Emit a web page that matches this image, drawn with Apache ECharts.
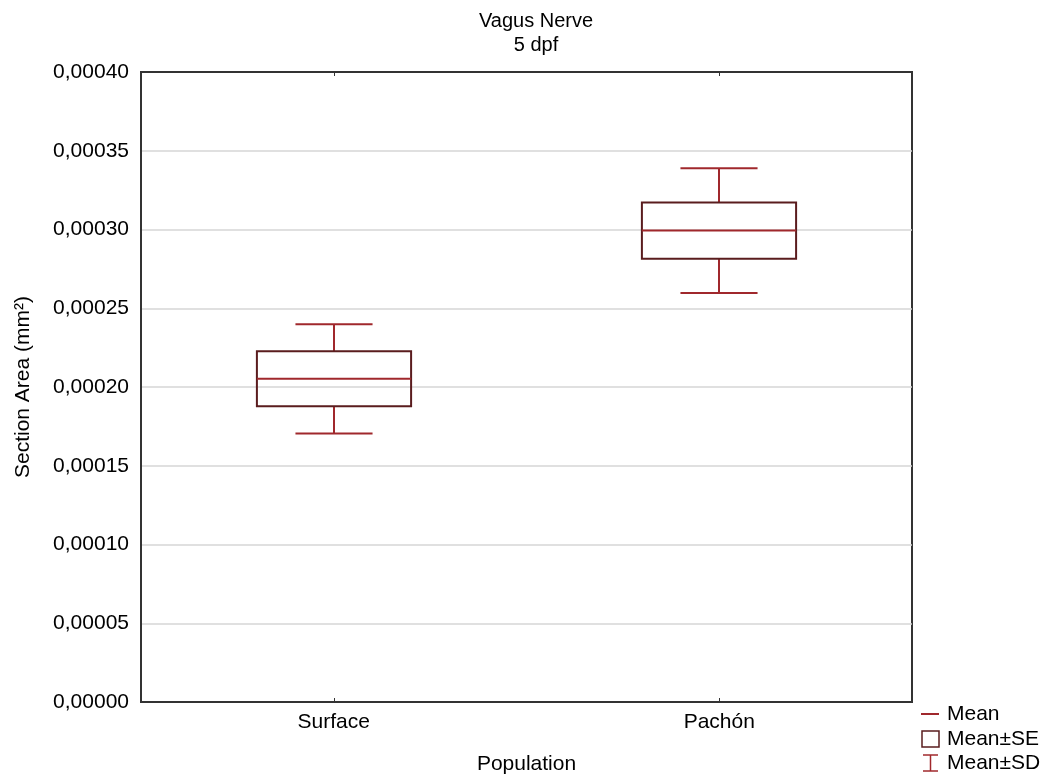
<!DOCTYPE html>
<html>
<head>
<meta charset="utf-8">
<script src="https://cdn.jsdelivr.net/npm/echarts@6/dist/echarts.min.js"></script>
<style>
html,body{margin:0;padding:0;background:#fff;}
#chart{width:1048px;height:780px;}
</style>
</head>
<body>
<div id="chart"></div>
<script>
const categories = ['Surface', 'Pachón'];
const means = [0.0002052, 0.0002993];
const se = [0.0000175, 0.0000179];
const sd = [0.0000347, 0.0000396];
const yTicks = { min: 0, max: 0.0004, interval: 0.00005 };
const legendItems = ['Mean', 'Mean±SE', 'Mean±SD'];

const FONT = '"Liberation Sans", Arial, sans-serif';
const BOX_COLOR = '#5a1c1e';
const LINE_COLOR = '#a0282c';
const FRAME = '#333333';

const chart = echarts.init(document.getElementById('chart'), null, { renderer: 'canvas' });

const data = categories.map((c, i) => [i, means[i], se[i], sd[i]]);

function renderItem(params, api) {
  const idx = api.value(0);
  const m = api.value(1), s = api.value(2), d = api.value(3);
  const band = api.size([1, 0])[0];
  const pMean = api.coord([idx, m]);
  const pSeHi = api.coord([idx, m + s]);
  const pSeLo = api.coord([idx, m - s]);
  const pSdHi = api.coord([idx, m + d]);
  const pSdLo = api.coord([idx, m - d]);
  const x = Math.round(pMean[0]);
  const bw = band * 0.2;
  const cw = band * 0.1;
  const lineStyle = { stroke: LINE_COLOR, lineWidth: 2, fill: null };
  return {
    type: 'group',
    children: [
      { type: 'line', shape: { x1: x, y1: pSdHi[1], x2: x, y2: pSeHi[1] }, style: lineStyle },
      { type: 'line', shape: { x1: x, y1: pSeLo[1], x2: x, y2: pSdLo[1] }, style: lineStyle },
      { type: 'line', shape: { x1: x - cw, y1: pSdHi[1], x2: x + cw, y2: pSdHi[1] }, style: lineStyle },
      { type: 'line', shape: { x1: x - cw, y1: pSdLo[1], x2: x + cw, y2: pSdLo[1] }, style: lineStyle },
      { type: 'rect', shape: { x: x - bw, y: pSeHi[1], width: 2 * bw, height: pSeLo[1] - pSeHi[1] },
        style: { stroke: BOX_COLOR, lineWidth: 2, fill: 'rgba(0,0,0,0)' } },
      { type: 'line', shape: { x1: x - bw, y1: pMean[1], x2: x + bw, y2: pMean[1] }, style: lineStyle }
    ]
  };
}

const legendX = 921, legendTextX = 947;
const legendY = [714, 739, 763];

const option = {
  backgroundColor: '#fff',
  animation: false,
  textStyle: { fontFamily: FONT },
  title: {
    text: 'Vagus Nerve\n5 dpf',
    left: 531,
    top: 4,
    textAlign: 'center',
    textStyle: { fontFamily: FONT, fontSize: 20, fontWeight: 'normal', color: '#000', lineHeight: 24 }
  },
  grid: {
    left: 141, right: 136, top: 72, bottom: 77,
    show: true, borderColor: FRAME, borderWidth: 2, backgroundColor: '#fff'
  },
  xAxis: [{
    type: 'category',
    data: categories,
    position: 'bottom',
    name: 'Population',
    nameLocation: 'middle',
    nameGap: 52,
    nameTextStyle: { fontFamily: FONT, fontSize: 21, color: '#000' },
    axisLine: { show: true, lineStyle: { color: FRAME, width: 2 } },
    axisTick: { show: true, inside: true, alignWithLabel: true, length: 4, lineStyle: { color: FRAME, width: 1 } },
    axisLabel: { fontFamily: FONT, fontSize: 21, color: '#000', margin: 10 },
    splitLine: { show: false }
  }, {
    type: 'category',
    data: categories,
    position: 'top',
    axisLine: { show: true, lineStyle: { color: FRAME, width: 2 } },
    axisTick: { show: true, inside: true, alignWithLabel: true, length: 4, lineStyle: { color: FRAME, width: 1 } },
    axisLabel: { show: false },
    splitLine: { show: false }
  }],
  yAxis: {
    type: 'value',
    min: yTicks.min,
    max: yTicks.max,
    interval: yTicks.interval,
    name: 'Section Area (mm²)',
    nameLocation: 'middle',
    nameGap: 107,
    nameTextStyle: { fontFamily: FONT, fontSize: 21, color: '#000' },
    axisLine: { show: true, lineStyle: { color: FRAME, width: 2 } },
    axisTick: { show: false },
    axisLabel: {
      fontFamily: FONT, fontSize: 21, color: '#000', margin: 12,
      formatter: v => v.toFixed(5).replace('.', ',')
    },
    splitLine: { show: true, showMinLine: false, showMaxLine: false, lineStyle: { color: '#d6d6d6', width: 1.5 } }
  },
  series: [{
    type: 'custom',
    renderItem: renderItem,
    data: data,
    encode: { x: 0, y: [1] },
    z: 5
  }],
  graphic: [
    { type: 'line', shape: { x1: legendX, y1: legendY[0], x2: legendX + 18, y2: legendY[0] }, style: { stroke: LINE_COLOR, lineWidth: 2 } },
    { type: 'rect', shape: { x: legendX + 1, y: legendY[1] - 8, width: 17, height: 16 }, style: { stroke: BOX_COLOR, lineWidth: 1.5, fill: '#fff' } },
    { type: 'line', shape: { x1: legendX + 9.5, y1: legendY[2] - 8, x2: legendX + 9.5, y2: legendY[2] + 8 }, style: { stroke: LINE_COLOR, lineWidth: 1.5 } },
    { type: 'line', shape: { x1: legendX + 2, y1: legendY[2] - 8, x2: legendX + 17, y2: legendY[2] - 8 }, style: { stroke: LINE_COLOR, lineWidth: 1.5 } },
    { type: 'line', shape: { x1: legendX + 2, y1: legendY[2] + 8, x2: legendX + 17, y2: legendY[2] + 8 }, style: { stroke: LINE_COLOR, lineWidth: 1.5 } },
    { type: 'text', x: legendTextX, y: legendY[0], style: { text: legendItems[0], font: '21px ' + FONT, fill: '#000', verticalAlign: 'middle' } },
    { type: 'text', x: legendTextX, y: legendY[1], style: { text: legendItems[1], font: '21px ' + FONT, fill: '#000', verticalAlign: 'middle' } },
    { type: 'text', x: legendTextX, y: legendY[2], style: { text: legendItems[2], font: '21px ' + FONT, fill: '#000', verticalAlign: 'middle' } }
  ]
};

chart.setOption(option);
</script>
</body>
</html>
